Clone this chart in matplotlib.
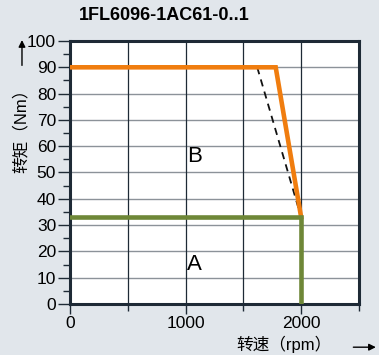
import matplotlib
matplotlib.use("Agg")
import matplotlib.pyplot as plt
from matplotlib.ticker import MultipleLocator

plt.rcParams['font.family'] = ['Liberation Sans', 'Noto Sans CJK SC', 'DejaVu Sans']

title = "1FL6096-1AC61-0..1"
# S3 / peak torque curve (orange)
peak_speed = [0, 1780, 2000]
peak_torque = [90, 90, 33]
# dashed reference curve
dash_speed = [1620, 2000]
dash_torque = [90, 33]
# S1 continuous curve (green)
cont_speed = [0, 2000, 2000]
cont_torque = [33, 33, 0]
xticks = [0, 1000, 2000]
yticks = [0, 10, 20, 30, 40, 50, 60, 70, 80, 90, 100]
regions = [("B", 1080, 56), ("A", 1080, 15)]

bg = '#e1e6eb'
fig = plt.figure(figsize=(3.79, 3.55), dpi=100, facecolor=bg)
ax = fig.add_axes([0.1847, 0.1437, 0.7623, 0.7408])
ax.set_facecolor('white')
ax.set_xlim(0, 2500)
ax.set_ylim(0, 100)

for y in range(10, 100, 10):
    ax.axhline(y, color='#8c9299', lw=1.0, zorder=1)
for x in range(500, 2500, 500):
    ax.axvline(x, color='#1e2a36', lw=0.9, zorder=1)

ax.plot(dash_speed, dash_torque, color='#111111', lw=1.3, ls=(0, (4, 3)), zorder=2)
ax.plot(peak_speed, peak_torque, color='#f07d0f', lw=3.3, zorder=3, solid_joinstyle='miter')
ax.plot(cont_speed, cont_torque, color='#6e8737', lw=3.3, zorder=4, solid_joinstyle='miter')

for lab, x, y in regions:
    ax.text(x, y, lab, fontsize=16, ha='center', va='center', color='black', zorder=5)

for s in ax.spines.values():
    s.set_color('#1e2a36')
    s.set_linewidth(2.2)

ax.set_xticks(xticks)
ax.xaxis.set_minor_locator(MultipleLocator(500))
ax.set_yticks(yticks)
ax.yaxis.set_minor_locator(MultipleLocator(5))
ax.tick_params(axis='both', which='major', length=7, width=1.0, color='#1e2a36',
               labelsize=12.5, direction='out', pad=1)
ax.tick_params(axis='both', which='minor', length=5, width=1.0, color='#1e2a36', direction='out')
ax.tick_params(axis='y', which='major', length=9)
ax.tick_params(axis='x', which='both', pad=2)

fig.text(0.433, 0.955, title, fontsize=13, fontweight='bold', ha='center', va='center')

# y axis label with arrow
fig.text(0.055, 0.644, "转矩（Nm）", rotation=90, fontsize=12, ha='center', va='center')
ax.annotate('', xy=(0.058, 0.895), xytext=(0.058, 0.808), xycoords='figure fraction',
            textcoords='figure fraction',
            arrowprops=dict(arrowstyle='-|>', color='black', lw=1.0, mutation_scale=10))
# x axis label with arrow
fig.text(0.75, 0.03, "转速（rpm）", fontsize=12, ha='center', va='center')
ax.annotate('', xy=(0.999, 0.022), xytext=(0.925, 0.022), xycoords='figure fraction',
            textcoords='figure fraction',
            arrowprops=dict(arrowstyle='-|>', color='black', lw=1.0, mutation_scale=10))

fig.savefig('out.png', dpi=100, facecolor=bg)
